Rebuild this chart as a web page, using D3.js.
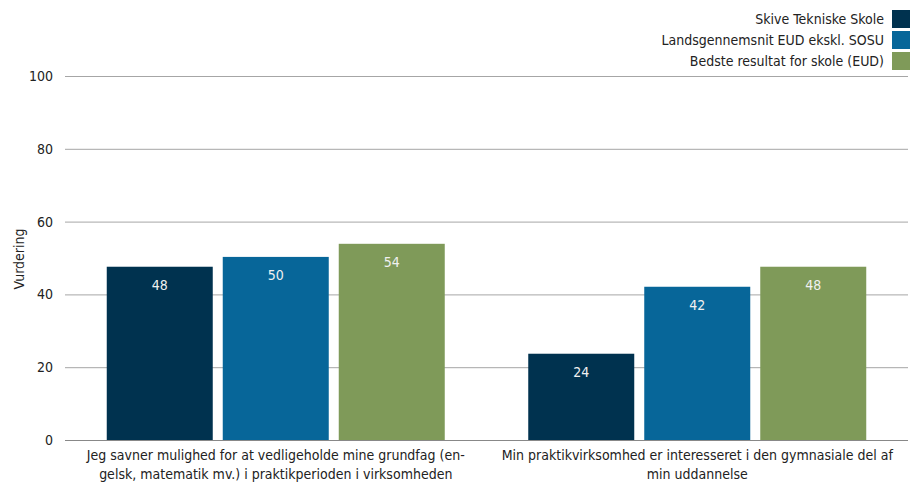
<!DOCTYPE html>
<html><head><meta charset="utf-8">
<script src="https://cdn.jsdelivr.net/npm/d3@7"></script>
<style>body{margin:0;background:#fff}svg text{font-family:"DejaVu Sans Condensed","Liberation Sans",sans-serif;}</style>
</head><body><svg id="c" width="920" height="484"></svg>
<script>
const categories = [
  ["Jeg savner mulighed for at vedligeholde mine grundfag (en-", "gelsk, matematik mv.) i praktikperioden i virksomheden"],
  ["Min praktikvirksomhed er interesseret i den gymnasiale del af", "min uddannelse"]
];
const seriesNames = ["Skive Tekniske Skole", "Landsgennemsnit EUD ekskl. SOSU", "Bedste resultat for skole (EUD)"];
const seriesColors = ["#00324f", "#076699", "#7f9a59"];
const skive = [47.6, 23.7];
const landsgennemsnit = [50.3, 42.1];
const bedste = [53.9, 47.6];
const yTicks = [0, 20, 40, 60, 80, 100];
const yTitle = "Vurdering";

const series = [skive, landsgennemsnit, bedste];
const svg = d3.select("#c");
const font = "DejaVu Sans Condensed, Liberation Sans, sans-serif";
const x0 = d3.scaleBand().domain([0,1]).range([65, 908]);
const x1 = d3.scaleBand().domain([0,1,2]).range([-169, 169]).paddingInner(0.0862);
const y = d3.scaleLinear().domain([0,100]).range([440, 76]);

// grid
svg.append("g").selectAll("line").data(yTicks).join("line")
  .attr("x1", 65).attr("x2", 908)
  .attr("y1", d=>y(d)+0.5).attr("y2", d=>y(d)+0.5)
  .attr("stroke", d=> d===0 ? "#888" : "#a6a6a6").attr("stroke-width", 1);
svg.append("g").selectAll("text").data(yTicks).join("text")
  .attr("x", 53).attr("y", d=>y(d)).attr("dy", "0.35em")
  .attr("text-anchor","end").attr("font-size", 14).attr("fill","#222").text(d=>d);
svg.append("text").attr("transform","translate(24,259) rotate(-90)")
  .attr("text-anchor","middle").attr("font-size",14).attr("fill","#222").text(yTitle);

// bars
categories.forEach((cat, ci) => {
  const cx = x0(ci) + x0.bandwidth()/2;
  series.forEach((s, si) => {
    const bx = cx + x1(si);
    svg.append("rect").attr("x", bx).attr("y", y(s[ci]))
      .attr("width", x1.bandwidth()).attr("height", y(0)-y(s[ci]))
      .attr("fill", seriesColors[si]);
    svg.append("text").attr("x", bx + x1.bandwidth()/2).attr("y", y(s[ci]) + 23)
      .attr("text-anchor","middle").attr("font-size",14).attr("fill","#f0f0f0")
      .text(Math.round(s[ci]));
  });
  cat.forEach((line, li) => {
    svg.append("text").attr("x", cx).attr("y", 460 + li*19)
      .attr("text-anchor","middle").attr("font-size",14).attr("fill","#222").text(line);
  });
});

// legend
seriesNames.forEach((n, i) => {
  const yy = 10 + i*21;
  svg.append("rect").attr("x", 892).attr("y", yy).attr("width", 18).attr("height", 18).attr("fill", seriesColors[i]);
  svg.append("text").attr("x", 884).attr("y", yy+9).attr("dy","0.35em")
    .attr("text-anchor","end").attr("font-size",14).attr("fill","#222").text(n);
});
</script></body></html>
